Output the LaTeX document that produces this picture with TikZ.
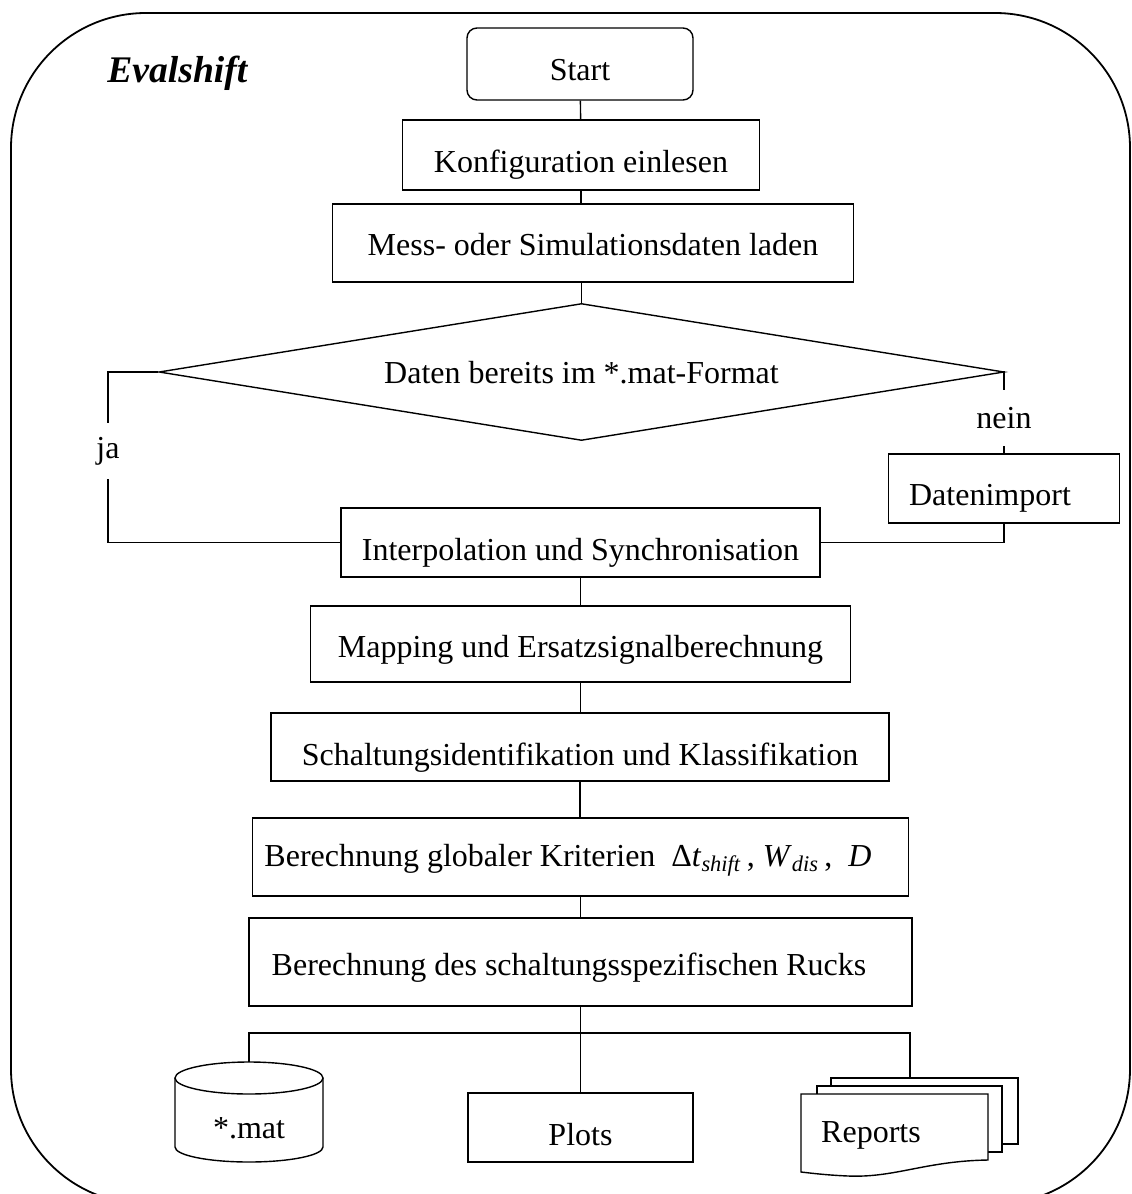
\documentclass[tikz,border=0pt]{standalone}
\usepackage{fontspec}
\setmainfont{Liberation Serif}
\usetikzlibrary{shapes.geometric}
\tikzset{
  pbox/.style={draw, line width=0.7pt, inner sep=0pt, align=center, fill=white},
  lbl/.style={inner sep=0pt},
  conn/.style={line width=0.7pt},
  frame/.style={line width=0.9pt},
  tb/.style={text height=#1, text depth=3pt},
}
\begin{document}
\begin{tikzpicture}[x=0.5pt,y=-0.5pt,font=\fontsize{16}{19}\selectfont]
\useasboundingbox (0,0) rectangle (1131,1194);
% outer frame
\draw[frame, rounded corners=67.5pt] (11,13) rectangle (1130,1204);
\node[lbl, anchor=base west, font=\fontsize{18.8}{22}\selectfont\bfseries\itshape] (title) at (107,82) {Evalshift};

% main nodes
\node[pbox, tb=19pt, rounded corners=5pt, minimum width=113pt, minimum height=36pt] (start) at (580,64) {Start};
\node[pbox, tb=20pt, minimum width=178.5pt, minimum height=35pt] (konf) at (581,155) {Konfiguration einlesen};
\node[pbox, tb=15pt, minimum width=260.5pt, minimum height=39pt] (mess) at (593,243) {Mess- oder Simulationsdaten laden};
\node[pbox, tb=14pt, shape=diamond, aspect=6.2, minimum width=422.5pt, minimum height=68.5pt] (dia) at (581.5,372) {Daten bereits im *.mat-Format};
\node[lbl, minimum height=28pt] (ja) at (108,451) {ja};
\node[lbl, minimum height=28pt] (nein) at (1004,418) {nein};
\node[pbox, minimum width=115.5pt, minimum height=34.5pt] (datimp) at (1004,488.5) {};
\node[lbl, anchor=base] at (990,505) {Datenimport};
\node[pbox, tb=20.5pt, minimum width=239.5pt, minimum height=34.5pt] (interp) at (580.5,542.5) {Interpolation und Synchronisation};
\node[pbox, tb=16pt, minimum width=270pt, minimum height=38pt] (mapping) at (580.5,644) {Mapping und Ersatzsignalberechnung};
\node[pbox, tb=21pt, minimum width=309pt, minimum height=34pt] (schalt) at (580,747) {Schaltungsidentifikation und Klassifikation};
\node[pbox, minimum width=328pt, minimum height=39pt] (global) at (580.5,857) {};
\node[lbl, anchor=base] at (568,866) {Berechnung globaler Kriterien\ \ Δ\textit{t}\textsubscript{\textit{shift}}\,, \textit{W}\textsubscript{\textit{dis}}\,,\ \ \textit{D}};
\node[pbox, minimum width=331.5pt, minimum height=44pt] (ruck) at (580.5,962) {};
\node[lbl, anchor=base] at (569,975) {Berechnung des schaltungsspezifischen Rucks};

% outputs
\node[pbox, tb=20.5pt, minimum width=112.5pt, minimum height=34.5pt] (plots) at (580.5,1127.5) {Plots};

% cylinder
\draw[conn, fill=white] (175,1078) -- (175,1147) arc[start angle=180, end angle=360, x radius=37pt, y radius=7.5pt] -- (323,1078);
\draw[conn] (249,1078) ellipse [x radius=37pt, y radius=8pt];
\node[lbl, anchor=base] (mat) at (249,1138) {*.mat};
\coordinate (cyltop) at (249,1062);

% reports (stacked documents)
\draw[conn, fill=white] (831,1078) rectangle (1018,1144);
\draw[conn, fill=white] (817,1086) rectangle (1002,1152);
\draw[conn, fill=white] (801,1094) -- (988,1094) -- (988,1160)
  .. controls (925,1161) and (895,1178) .. (848,1176)
  .. controls (825,1175) and (810,1173) .. (801,1172) -- cycle;
\node[lbl, anchor=base] (rep) at (871,1142) {Reports};
\coordinate (reptop) at (910,1078);

% connectors
\draw[conn] (start) -- (konf);
\draw[conn] (konf) -- (konf |- mess.north);
\draw[conn] (dia.north |- mess.south) -- (dia.north);
\draw[conn] (dia.west) -| (ja.north);
\draw[conn] (ja.south) |- (interp.west);
\draw[conn] (dia.east) -| (nein.north);
\draw[conn] (nein.south) -- (datimp.north);
\draw[conn] (datimp.south) |- (interp.east);
\draw[conn] (interp.south) -- (interp.south |- mapping.north);
\draw[conn] (mapping.south) -- (mapping.south |- schalt.north);
\draw[conn] (schalt.south) -- (schalt.south |- global.north);
\draw[conn] (global.south) -- (global.south |- ruck.north);
\draw[conn] (ruck.south) -- (plots.north);
\coordinate (busl) at (249,1033);
\coordinate (busr) at (910,1033);
\draw[conn] (cyltop) -- (busl) -- (busr) -- (reptop);
\end{tikzpicture}
\end{document}
